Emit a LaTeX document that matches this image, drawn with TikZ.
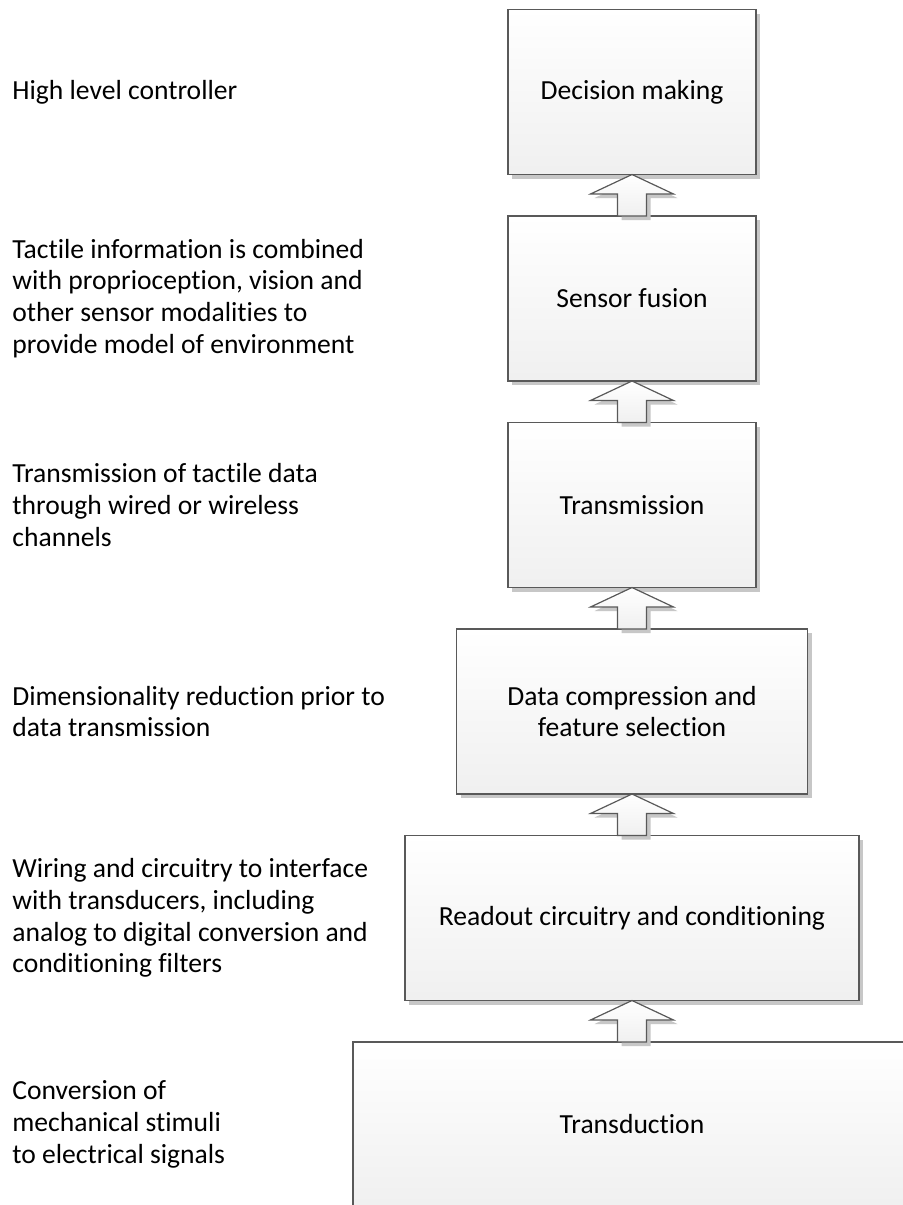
\documentclass[tikz,border=0pt]{standalone}
\usepackage{fontspec}
\setmainfont{Carlito}[Ligatures=NoCommon]
\usetikzlibrary{positioning,calc,shadows}
\tikzset{%
   blk/.style={rectangle, draw=black!65, line width=.6pt, top color=white, bottom color=black!6,
      minimum width=124pt, minimum height=82.5pt, align=center, inner sep=0pt, outer sep=0pt,
      drop shadow={shadow xshift=2pt, shadow yshift=-2pt, fill=black!22, opacity=1}},
   note/.style={anchor=west, align=left, inner sep=0pt},
   uparr/.style={draw=black!65, line width=.6pt, top color=white, bottom color=black!6,
      drop shadow={shadow xshift=2pt, shadow yshift=-2pt, fill=black!22, opacity=1}},
}
\begin{document}
\begin{tikzpicture}[x=0.5pt, y=-0.5pt, font=\fontsize{13.8}{15.9}\selectfont]
   \clip (0,0) rectangle (903,1205);
   \fill[white] (0,0) rectangle (903,1205);
   % boxes, bottom to top
   \node[blk, minimum width=279pt] (b6) at (632,1124.5) {Transduction};
   \node[blk, minimum width=227pt, above=20.75pt of b6] (b5) {Readout circuitry and conditioning};
   \node[blk, minimum width=175.5pt, above=20.75pt of b5] (b4) {Data compression and\\feature selection};
   \node[blk, above=20.75pt of b4] (b3) {Transmission};
   \node[blk, above=20.75pt of b3] (b2) {Sensor fusion};
   \node[blk, above=20.75pt of b2] (b1) {Decision making};
   % arrows
   \foreach \lo/\hi in {b2/b1, b3/b2, b4/b3, b5/b4, b6/b5}
      \draw[uparr] (\hi.south) -- ++(41.5,19.5) -- ++(-27,0) -- ($(\lo.north)+(14.5,0)$)
         -- ($(\lo.north)+(-14.5,0)$) -- ($(\hi.south)+(-14.5,19.5)$) -- ++(-27,0) -- cycle;
   % notes on the left
   \coordinate (lx) at (12,0);
   \node[note] (t1) at (b1 -| lx) {High level controller};
   \node[note] (t2) at (b2 -| lx) {Tactile information is combined\\with proprioception, vision and\\other sensor modalities to\\provide model of environment};
   \node[note] (t3) at (b3 -| lx) {Transmission of tactile data\\through wired or wireless\\channels};
   \node[note] (t4) at (b4 -| lx) {Dimensionality reduction prior to\\data transmission};
   \node[note] (t5) at (b5 -| lx) {Wiring and circuitry to interface\\with transducers, including\\analog to digital conversion and\\conditioning filters};
   \node[note] (t6) at (b6 -| lx) {Conversion of\\mechanical stimuli\\to electrical signals};
\end{tikzpicture}
\end{document}
